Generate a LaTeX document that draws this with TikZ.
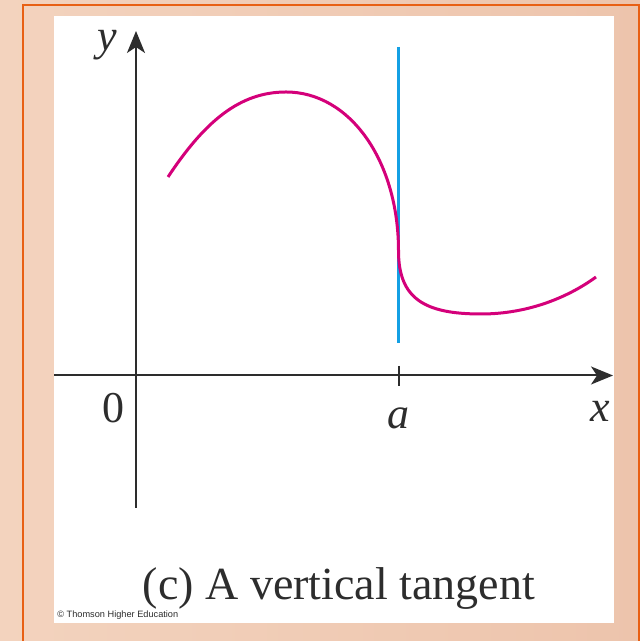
\documentclass[tikz,border=0pt]{standalone}
\usepackage{fontspec}
\setmainfont{Liberation Serif}
\newfontfamily\credfont{Liberation Sans}
\usepackage{tikz}
\usetikzlibrary{positioning,arrows.meta,calc}
\definecolor{peach}{RGB}{243,211,190}
\definecolor{peachdk}{RGB}{237,196,172}
\definecolor{frameorange}{RGB}{232,96,20}
\definecolor{axisgray}{RGB}{45,45,45}
\definecolor{curvemag}{RGB}{212,0,122}
\definecolor{tanblue}{RGB}{20,160,228}
\tikzset{
  axis/.style={draw=axisgray, line width=1pt, -{Stealth[length=11pt, width=9pt, inset=3pt]}},
  tickmark/.style={draw=axisgray, line width=1pt},
  fcurve/.style={draw=curvemag, line width=1.5pt},
  tangent/.style={draw=tanblue, line width=1.25pt},
  lbl/.style={font=\fontsize{22}{26}\selectfont, text=axisgray, inner sep=0pt},
  caption/.style={font=\fontsize{23}{27}\selectfont, text=axisgray, inner sep=0pt, anchor=base},
  cred/.style={font=\credfont\fontsize{4.6}{5.5}\selectfont, text=axisgray, inner sep=0pt, anchor=base west}
}
\begin{document}
\begin{tikzpicture}[x=0.5pt, y=0.5pt]
% background and panel
\useasboundingbox (0,0) rectangle (640,641);
\shade[left color=peach, right color=peachdk] (0,0) rectangle (640,641);
\draw[frameorange, line width=1pt] (23,0) -- (23,636) -- (639,636) -- (639,0);
\fill[white] (54,18) rectangle (614,625);
% axes
\coordinate (xs) at (54,265.5);
\coordinate (xe) at (613,265.5);
\coordinate (ys) at (136,133);
\coordinate (ye) at (136,610);
\draw[axis] (xs) -- (xe);
\draw[axis] (ys) -- (ye);
\coordinate (tt) at (398.5,275);
\coordinate (tb) at (398.5,255);
\draw[tickmark] (tt) -- (tb);
% vertical tangent
\coordinate (vt) at (398.5,594);
\coordinate (vb) at (398.5,298);
\draw[tangent] (vt) -- (vb);
% the curve
\coordinate (c0) at (168,464);
\coordinate (c1) at (286,549);
\coordinate (c2) at (398.5,390);
\coordinate (c3) at (481,327);
\coordinate (c4) at (596,364);
\draw[fcurve] (c0) .. controls (205,520) and (240,549) .. (c1)
  .. controls (350,549) and (398.5,480) .. (c2)
  .. controls (398.5,342) and (425,327) .. (c3)
  .. controls (530,327) and (570,345) .. (c4);
% labels
\node[lbl] (ylbl) at (107,596) {\textit{y}};
\node[lbl] (olbl) at (113,233) {0};
\node[lbl] (albl) at (398,223) {\textit{a}};
\node[lbl] (xlbl) at (600.5,230) {\textit{x}};
\node[caption] (cap) at (339,41) {(c) A vertical tangent};
\node[cred] (credit) at (57,23) {\textcopyright{} Thomson Higher Education};
\end{tikzpicture}
\end{document}
